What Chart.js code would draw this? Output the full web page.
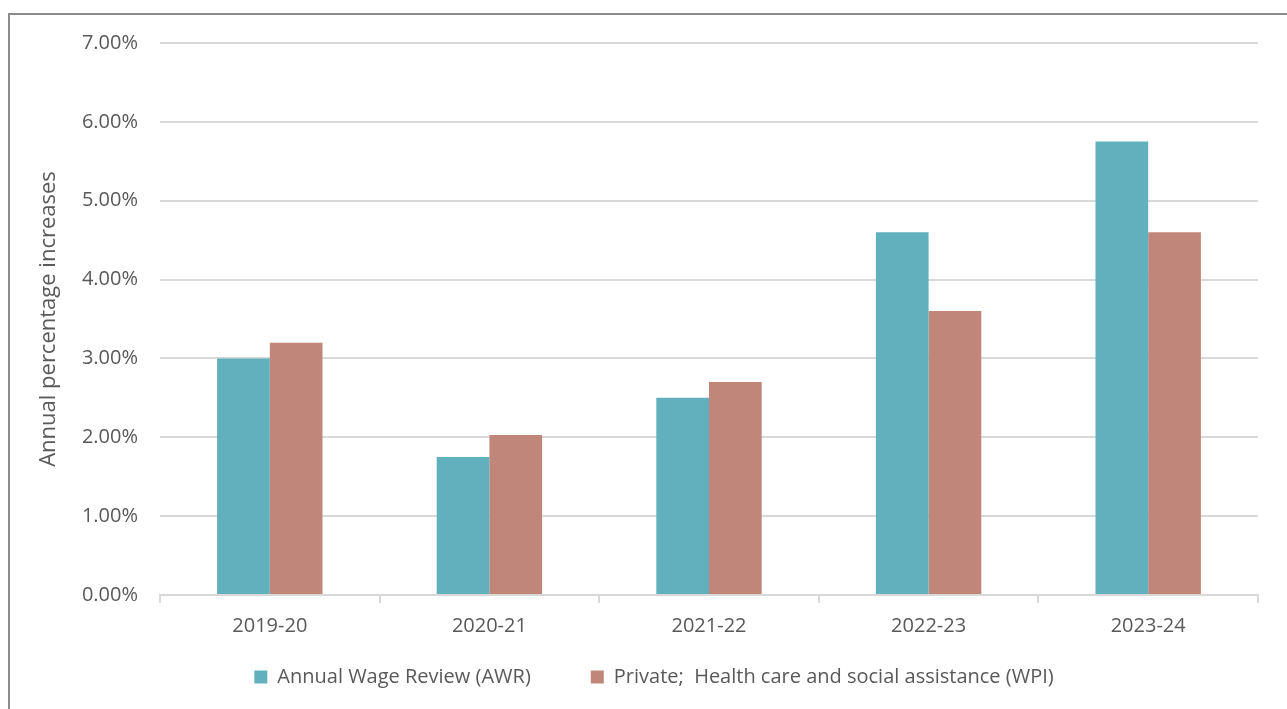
<!DOCTYPE html>
<html>
<head>
<meta charset="utf-8">
<script src="https://cdn.jsdelivr.net/npm/chart.js@4"></script>
<style>
    html, body { margin: 0; padding: 0; background: #fff; overflow: hidden; }
    #frame {
        position: absolute;
        left: 8px;
        top: 13px;
        width: 1279px;
        height: 696px;
        border-left: 2px solid #8c8c8c;
        border-top: 2px solid #8c8c8c;
    }
</style>
</head>
<body>
<div id="frame">
    <canvas id="wageChart" width="1277" height="694"></canvas>
</div>
<script>
// Annual wage increases by financial year
var years = ['2019-20', '2020-21', '2021-22', '2022-23', '2023-24'];
var awrValues = [3.00, 1.75, 2.50, 4.60, 5.75];
var wpiValues = [3.20, 2.03, 2.70, 3.60, 4.60];
var seriesNames = ['Annual Wage Review (AWR)', 'Private;  Health care and social assistance (WPI)'];
var yTicks = [0, 1, 2, 3, 4, 5, 6, 7];

// legend padding is also used vertically, so nudge the box back up under the axis labels
var legendNudge = {
    id: 'legendNudge',
    afterLayout: function(chart) {
        var lg = chart.legend;
        if (!lg) return;
        lg.top -= 46;
        lg.bottom -= 46;
        lg.left += 20;
        lg.right += 20;
    }
};

document.addEventListener('DOMContentLoaded', function() {
    var textColor = '#595959';
    var gridColor = '#d9d9d9';
    var fontFamily = '"Open Sans", "Noto Sans", sans-serif';

    var ctx = document.getElementById('wageChart').getContext('2d');
    new Chart(ctx, {
        type: 'bar',
        data: {
            labels: years,
            datasets: [{
                label: seriesNames[0],
                data: awrValues,
                backgroundColor: '#60b1bd',
                categoryPercentage: 0.48,
                barPercentage: 1.0
            }, {
                label: seriesNames[1],
                data: wpiValues,
                backgroundColor: '#c0867a',
                categoryPercentage: 0.48,
                barPercentage: 1.0
            }]
        },
        plugins: [legendNudge],
        options: {
            responsive: false,
            animation: false,
            layout: {
                padding: { left: 0, right: 29, top: 28, bottom: -34 }
            },
            plugins: {
                tooltip: { enabled: false },
                legend: {
                    display: true,
                    position: 'bottom',
                    labels: {
                        color: textColor,
                        font: { family: fontFamily, size: 20 },
                        boxWidth: 13,
                        boxHeight: 13,
                        padding: 60
                    }
                }
            },
            scales: {
                x: {
                    offset: true,
                    grid: {
                        offset: true,
                        drawOnChartArea: false,
                        drawTicks: true,
                        tickLength: 8,
                        color: gridColor,
                        lineWidth: 2
                    },
                    border: { display: true, color: gridColor, width: 2 },
                    ticks: {
                        color: textColor,
                        font: { family: fontFamily, size: 20 },
                        padding: 11
                    },
                    afterFit: function(scale) { scale.height = 58; }
                },
                y: {
                    min: yTicks[0],
                    max: yTicks[yTicks.length - 1],
                    afterBuildTicks: function(scale) {
                        scale.ticks = yTicks.map(function(v) { return { value: v }; });
                    },
                    grid: {
                        drawTicks: false,
                        color: gridColor,
                        lineWidth: 2
                    },
                    border: { display: false },
                    ticks: {
                        color: textColor,
                        font: { family: fontFamily, size: 20 },
                        padding: 22,
                        callback: function(v) { return v.toFixed(2) + '%'; }
                    },
                    title: {
                        display: true,
                        text: 'Annual percentage increases',
                        color: textColor,
                        font: { family: fontFamily, size: 22 },
                        padding: { top: 26, bottom: 0 }
                    },
                    afterFit: function(scale) {
                        scale.width = 150;
                        scale.paddingTop = 0;
                        scale.paddingBottom = 0;
                    }
                }
            }
        }
    });
});
</script>
</body>
</html>
